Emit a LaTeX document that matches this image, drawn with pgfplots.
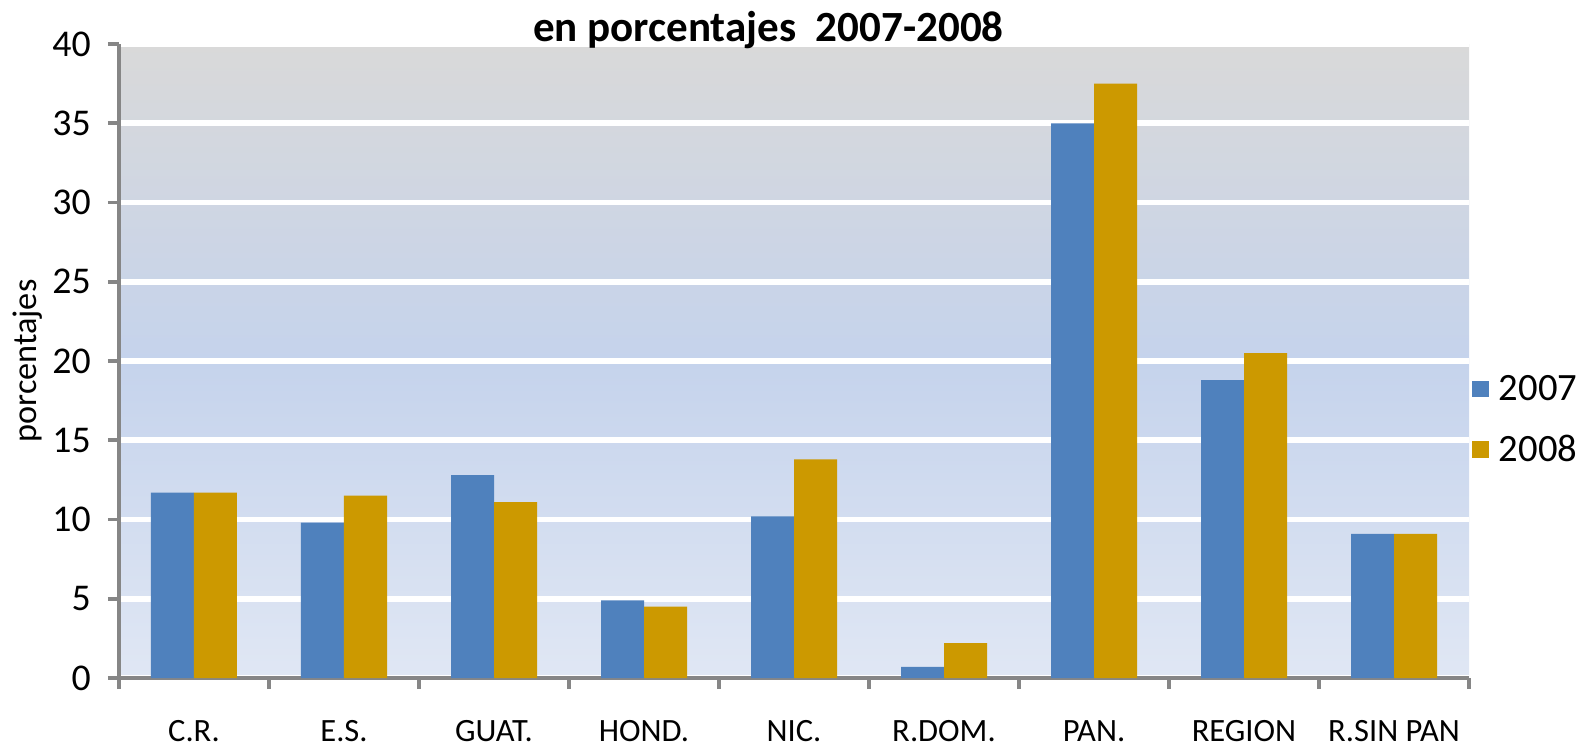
\documentclass[border=0pt]{standalone}
\usepackage{fontspec}
\setmainfont{Carlito}
\usepackage{pgfplots}
\pgfplotsset{compat=1.18}
\definecolor{b07}{HTML}{4F81BD}
\definecolor{g08}{HTML}{CC9900}
\definecolor{axgray}{HTML}{868686}
\definecolor{bgtop}{HTML}{D9D9D9}
\definecolor{bgmid}{HTML}{C5D3EC}
\definecolor{bgbot}{HTML}{E0E7F4}

\begin{document}
\begin{tikzpicture}
\path[use as bounding box] (-2.38cm,-1.38cm) rectangle (29.28cm,13.56cm);
\begin{axis}[
  scale only axis, width=27.0cm, height=12.68cm,
  ybar=0pt, bar width=0.86cm,
  xmin=-0.5, xmax=8.5, ymin=0, ymax=40,
  xtick={0,...,8},
  xticklabels={C.R.,E.S.,GUAT.,HOND.,NIC.,R.DOM.,PAN.,REGION,R.SIN PAN},
  minor xtick={-0.5,0.5,...,8.5},
  ytick={0,5,...,40},
  axis x line*=bottom, axis y line*=left,
  axis line style={axgray, line width=2.8pt},
  tick align=outside,
  major tick length=0.22cm, minor tick length=0.22cm,
  major x tick style={draw=none},
  minor x tick style={axgray, line width=2.2pt},
  ytick style={axgray, line width=2.2pt},
  ymajorgrids, grid style={white, line width=3.4pt},
  axis background/.style={top color=bgtop, bottom color=bgbot, middle color=bgmid},
  /pgf/number format/assume math mode=true,
  yticklabel style={font=\fontsize{21.5}{25}\selectfont, xshift=-0.22cm},
  xticklabel style={font=\fontsize{18.5}{22}\selectfont, yshift=-0.5cm},
  legend style={at={(1,0.407)}, anchor=west, xshift=0.06cm, draw=none, fill=none,
    inner sep=0pt, row sep=0.5cm, font=\fontsize{22}{26}\selectfont,
    nodes={inner xsep=0.2cm}},
  legend cell align=left,
  legend image code/.code={\fill[#1,draw=none] (0cm,-0.16cm) rectangle (0.33cm,0.17cm);},
  clip=false,
]
\addplot[fill=b07, draw=none] coordinates {
  (0,11.7) (1,9.8) (2,12.8) (3,4.9) (4,10.2) (5,0.7) (6,35.0) (7,18.8) (8,9.1)};
\addplot[fill=g08, draw=none] coordinates {
  (0,11.7) (1,11.5) (2,11.1) (3,4.5) (4,13.8) (5,2.2) (6,37.5) (7,20.5) (8,9.1)};
\legend{2007,2008}
\node[font=\bfseries\fontsize{24.5}{29}\selectfont] at (rel axis cs:0.481,1.022) {en porcentajes\ \ 2007-2008};
\node[rotate=90, font=\fontsize{19.5}{23}\selectfont] at ([xshift=-1.82cm]rel axis cs:0,0.5) {porcentajes};
\end{axis}
\end{tikzpicture}
\end{document}
